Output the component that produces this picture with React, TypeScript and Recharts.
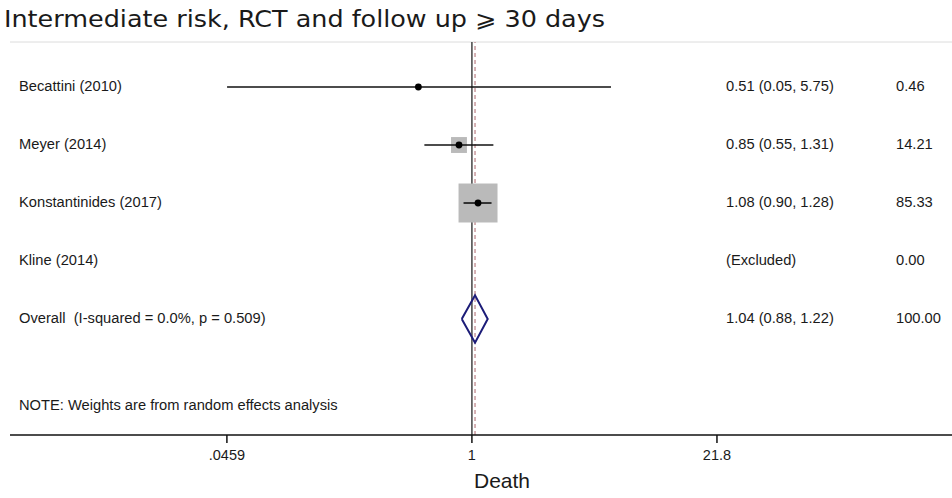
import { ScatterChart, Scatter, XAxis, YAxis, ReferenceLine } from 'recharts';

document.body.style.margin = '0';

const title = 'Intermediate risk, RCT and follow up ⩾ 30 days';
const studies = ['Becattini (2010)', 'Meyer (2014)', 'Konstantinides (2017)', 'Kline (2014)'];
const estimates: (number | null)[] = [0.51, 0.85, 1.08, null];
const lowers: (number | null)[] = [0.046, 0.55, 0.9, null];
const uppers: (number | null)[] = [5.75, 1.31, 1.28, null];
const weights = [0.46, 14.21, 85.33, 0.0];

const overallLabel = 'Overall  (I-squared = 0.0%, p = 0.509)';
const overallEst = 1.04;
const overallLo = 0.88;
const overallHi = 1.22;
const overallWeight = 100;

const note = 'NOTE: Weights are from random effects analysis';
const xTicks = [0.0459, 1, 21.8];
const xTickLabels = ['.0459', '1', '21.8'];
const xTitle = 'Death';

const X_DOMAIN = [0.003, 419];
const Y_TOP = 0.224;
const Y_BOTTOM = 7;
const NOTE_ROW = 6.5;
const DIAMOND_HALF = 0.41;
const BOX_K = 4.22;

const FONT = '"Liberation Sans", Arial, sans-serif';
const TEXT = '#1a1a1a';

const fmt = (e: number | null, l: number | null, h: number | null) =>
  e == null || l == null || h == null
    ? '(Excluded)'
    : `${e.toFixed(2)} (${l.toFixed(2)}, ${h.toFixed(2)})`;

const overallRow = studies.length + 1;

const rows = [
  ...studies.map((name, i) => ({
    x: 1,
    y: i + 1,
    name,
    est: fmt(estimates[i], lowers[i], uppers[i]),
    w: weights[i].toFixed(2),
  })),
  { x: 1, y: overallRow, name: overallLabel, est: fmt(overallEst, overallLo, overallHi), w: overallWeight.toFixed(2) },
  { x: 1, y: NOTE_ROW, name: note, est: '', w: '' },
];

const studyData = studies
  .map((_, i) => ({ x: estimates[i], y: i + 1, w: weights[i] }))
  .filter((d) => d.x != null);

const ciSegments = studies
  .map((_, i) =>
    lowers[i] == null || uppers[i] == null
      ? null
      : [
          { x: lowers[i], y: i + 1 },
          { x: uppers[i], y: i + 1 },
        ]
  )
  .filter((s) => s != null);

const diamond = [
  { x: overallLo, y: overallRow },
  { x: overallEst, y: overallRow - DIAMOND_HALF },
  { x: overallHi, y: overallRow },
  { x: overallEst, y: overallRow + DIAMOND_HALF },
  { x: overallLo, y: overallRow },
];

const RowText = (props: any) => {
  const { cy, payload } = props;
  return (
    <g fontFamily={FONT} fontSize={14.7} fill={TEXT}>
      <text x={19} y={cy + 4} textAnchor="start" xmlSpace="preserve" style={{ whiteSpace: 'pre' }}>
        {payload.name}
      </text>
      {payload.est && <text x={726} y={cy + 4} textAnchor="start">{payload.est}</text>}
      {payload.w && <text x={896} y={cy + 4} textAnchor="start">{payload.w}</text>}
    </g>
  );
};

const WeightBox = (props: any) => {
  const { cx, cy, payload } = props;
  const s = BOX_K * Math.sqrt(payload.w);
  return <rect x={cx - s / 2} y={cy - s / 2} width={s} height={s} fill="#bababa" />;
};

const Dot = (props: any) => <circle cx={props.cx} cy={props.cy} r={3.4} fill="#000" />;
const NoDot = () => <g />;

export default function App() {
  return (
    <div style={{ position: 'relative', width: 952, height: 498, background: '#fff' }}>
      <ScatterChart width={952} height={498} margin={{ top: 42, right: 0, bottom: 0, left: 10 }}>
        <XAxis
          type="number"
          dataKey="x"
          scale="log"
          domain={X_DOMAIN}
          allowDataOverflow
          ticks={xTicks}
          interval={0}
          tickFormatter={(v: number) => xTickLabels[xTicks.indexOf(v)] ?? String(v)}
          axisLine={{ stroke: '#111', strokeWidth: 1.5 }}
          tickLine={{ stroke: '#111', strokeWidth: 1.5 }}
          tickSize={8}
          tickMargin={7}
          tick={{ fontFamily: FONT, fontSize: 14.5, fill: TEXT }}
          height={63}
          label={{ value: xTitle, position: 'insideBottom', offset: 10, dx: 21, fontFamily: FONT, fontSize: 21, fill: TEXT }}
        />
        <YAxis type="number" dataKey="y" domain={[Y_TOP, Y_BOTTOM]} reversed allowDataOverflow hide />
        <ReferenceLine y={Y_TOP} stroke="#dcdcdc" strokeWidth={1} />
        <ReferenceLine x={1} stroke="#444" strokeWidth={1.5} />
        <ReferenceLine x={overallEst} stroke="#c89a9e" strokeWidth={1.5} strokeDasharray="4 3" />
        <Scatter data={studyData} shape={<WeightBox />} isAnimationActive={false} />
        {ciSegments.map((seg, i) => (
          <Scatter
            key={i}
            data={seg as any[]}
            shape={<NoDot />}
            line={{ stroke: '#111', strokeWidth: 1.6 }}
            lineType="joint"
            fill="none"
            isAnimationActive={false}
          />
        ))}
        <Scatter data={studyData} shape={<Dot />} isAnimationActive={false} />
        <Scatter
          data={diamond}
          shape={<NoDot />}
          line={{ stroke: '#1c1c78', strokeWidth: 2 }}
          lineType="joint"
          fill="none"
          isAnimationActive={false}
        />
        <Scatter data={rows} shape={<RowText />} isAnimationActive={false} />
      </ScatterChart>
      <svg width={952} height={45} style={{ position: 'absolute', left: 0, top: 0 }}>
        <text
          x={4}
          y={27}
          fontFamily='"DejaVu Sans", "Noto Sans", "Noto Sans CJK SC", sans-serif'
          fontSize={23}
          textLength={601}
          lengthAdjust="spacingAndGlyphs"
          fill="#1a1a1a"
        >
          {title}
        </text>
      </svg>
    </div>
  );
}
